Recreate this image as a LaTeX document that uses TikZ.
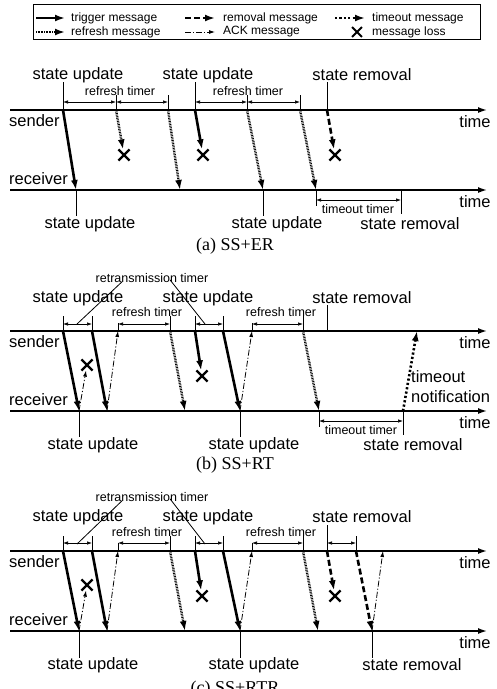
\documentclass[tikz,border=0pt]{standalone}
\usepackage{fontspec}
\setmainfont{Liberation Sans}
\newfontfamily\capfont{Liberation Serif}
\usetikzlibrary{arrows.meta,shapes.misc}

\begin{document}
\begin{tikzpicture}[x=1pt,y=-1pt,
    tline/.style={line width=1.5pt,-{Latex[length=9pt,width=6pt]}},
    trig/.style={line width=2.6pt,-{Latex[length=10pt,width=7pt]}},
    refr/.style={line width=2.4pt,dash pattern=on 0.8pt off 0.8pt,-{Latex[length=10pt,width=7pt]}},
    remv/.style={line width=2.6pt,dash pattern=on 6pt off 3pt,-{Latex[length=10pt,width=7pt]}},
    tmo/.style={line width=2.6pt,dash pattern=on 2.2pt off 2.2pt,-{Latex[length=10pt,width=7pt]}},
    ack/.style={line width=0.8pt,dash pattern=on 6pt off 2pt on 1.2pt off 2pt,-{Latex[length=6pt,width=4pt]}},
    timer/.style={line width=0.7pt,{Latex[length=5pt,width=3.5pt]}-{Latex[length=5pt,width=3.5pt]}},
    tickln/.style={line width=0.8pt},
    loss/.style={cross out,draw,line width=2.2pt,minimum size=9pt,inner sep=0pt},
    lbl/.style={inner sep=0pt,font=\fontsize{16.5}{20}\selectfont},
    sml/.style={inner sep=0pt,font=\fontsize{12.5}{14}\selectfont},
    leg/.style={inner sep=0pt,anchor=west,font=\fontsize{12}{14}\selectfont},
    capt/.style={inner sep=0pt,font=\capfont\fontsize{18}{21}\selectfont}]
    \useasboundingbox (0,0) rectangle (497,689);

    % legend
    \draw[line width=1pt] (33,4) rectangle (480,39);
    \node[leg] (ltrig) at (71,18) {trigger message};
    \node[leg] (lrefr) at (71,32) {refresh message};
    \node[leg] (lremv) at (223,18) {removal message};
    \node[leg] (lack) at (223,32) {ACK message};
    \node[leg] (ltmo) at (372,18) {timeout message};
    \node[leg] (lloss) at (372,32) {message loss};
    \draw[trig,line width=2pt] ([xshift=-35pt]ltrig.west) -- ([xshift=-6pt]ltrig.west);
    \draw[refr,line width=2pt] ([xshift=-35pt]lrefr.west) -- ([xshift=-6pt]lrefr.west);
    \draw[remv,line width=2pt] ([xshift=-38pt]lremv.west) -- ([xshift=-8pt]lremv.west);
    \draw[ack] ([xshift=-38pt]lack.west) -- ([xshift=-8pt]lack.west);
    \draw[tmo,line width=2pt] ([xshift=-37pt]ltmo.west) -- ([xshift=-7pt]ltmo.west);
    \node[loss,minimum size=8pt,line width=1.8pt] (lx) at ([xshift=-15pt]lloss.west) {};

    % (a) SS+ER
    \begin{scope}[shift={(0,110)},name prefix=a-]
        \coordinate (s0) at (10,0);
        \coordinate (s1) at (487,0);
        \coordinate (r0) at (10,80);
        \coordinate (r1) at (487,80);
        \draw[tline] (s0) -- (s1);
        \draw[tline] (r0) -- (r1);
        \node[lbl,anchor=west] (snd) at (9,11) {sender};
        \node[lbl,anchor=west] (rcv) at (9,69) {receiver};
        \node[lbl] (ts) at (475,12) {time};
        \node[lbl] (tr) at (475,92) {time};
        \coordinate (e1) at (63,0);
        \coordinate (e2) at (116,0);
        \coordinate (e3) at (168,0);
        \coordinate (e4) at (195,0);
        \coordinate (e5) at (247,0);
        \coordinate (e6) at (300,0);
        \coordinate (e7) at (327,0);
        \coordinate (f1) at (76,80);
        \coordinate (f2) at (180,80);
        \coordinate (f3) at (263,80);
        \coordinate (f4) at (316,80);
        \coordinate (f5) at (401,80);
        \node[loss] (x1) at (124,45) {};
        \node[loss] (x2) at (203,45) {};
        \node[loss] (x3) at (335,45) {};
        \draw[tickln] (e1) -- ++(0,-28);
        \draw[tickln] (e4) -- ++(0,-28);
        \draw[tickln] (e7) -- ++(0,-28);
        \draw[tickln] (e2) -- ++(0,-15);
        \draw[tickln] (e3) -- ++(0,-15);
        \draw[tickln] (e5) -- ++(0,-15);
        \draw[tickln] (e6) -- ++(0,-15);
        \draw[tickln] (f1) -- ++(0,26);
        \draw[tickln] (f3) -- ++(0,26);
        \draw[tickln] (f5) -- ++(0,24);
        \draw[tickln] (f4) -- ++(0,16);
        \draw[timer] ([yshift=8pt]e1) -- ([yshift=8pt]e2);
        \draw[timer] ([yshift=8pt]e2) -- ([yshift=8pt]e3);
        \draw[timer] ([yshift=8pt]e4) -- ([yshift=8pt]e5);
        \draw[timer] ([yshift=8pt]e5) -- ([yshift=8pt]e6);
        \draw[timer] ([yshift=-10pt]f4) -- ([yshift=-10pt]f5);
        \draw[trig] (e1) -- (f1);
        \draw[refr] (e2) -- (x1);
        \draw[refr] (e3) -- (f2);
        \draw[trig] (e4) -- (x2);
        \draw[refr] (e5) -- (f3);
        \draw[refr] (e6) -- (f4);
        \draw[remv] (e7) -- (x3);
        \node[lbl] (u1) at (78,-35) {state update};
        \node[lbl] (u2) at (208,-35) {state update};
        \node[lbl] (rm1) at (362,-35) {state removal};
        \node[sml] (rt1) at (120,-19) {refresh timer};
        \node[sml] (rt2) at (248,-19) {refresh timer};
        \node[sml] (tt1) at (358,99) {timeout timer};
        \node[lbl] (u3) at (90,114) {state update};
        \node[lbl] (u4) at (277,114) {state update};
        \node[lbl] (rm2) at (410,114) {state removal};
    \end{scope}
    \node[capt] (capa) at (235,246) {(a) SS+ER};

    % (b) SS+RT
    \begin{scope}[shift={(0,331)},name prefix=b-]
        \coordinate (s0) at (10,0);
        \coordinate (s1) at (487,0);
        \coordinate (r0) at (10,80);
        \coordinate (r1) at (487,80);
        \draw[tline] (s0) -- (s1);
        \draw[tline] (r0) -- (r1);
        \node[lbl,anchor=west] (snd) at (9,11) {sender};
        \node[lbl,anchor=west] (rcv) at (9,69) {receiver};
        \node[lbl] (ts) at (475,12) {time};
        \node[lbl] (tr) at (475,92) {time};
        \coordinate (e1) at (63,0);
        \coordinate (e2) at (92,0);
        \coordinate (e3) at (118,0);
        \coordinate (e4) at (170,0);
        \coordinate (e5) at (195,0);
        \coordinate (e6) at (223,0);
        \coordinate (e7) at (252,0);
        \coordinate (e8) at (303,0);
        \coordinate (e9) at (327,0);
        \coordinate (e10) at (417,0);
        \coordinate (f1) at (79,80);
        \coordinate (f2) at (107,80);
        \coordinate (f3) at (185,80);
        \coordinate (f4) at (240,80);
        \coordinate (f5) at (319,80);
        \coordinate (f6) at (403,80);
        \coordinate (m1) at (77,-7);
        \coordinate (m2) at (205,-7);
        \node[loss] (x1) at (87,34) {};
        \node[loss] (x2) at (202,45) {};
        \draw[tickln] (e1) -- ++(0,-15);
        \draw[tickln] (e2) -- ++(0,-15);
        \draw[tickln] (e3) -- ++(0,-8);
        \draw[tickln] (e4) -- ++(0,-15);
        \draw[tickln] (e5) -- ++(0,-15);
        \draw[tickln] (e6) -- ++(0,-15);
        \draw[tickln] (e7) -- ++(0,-8);
        \draw[tickln] (e8) -- ++(0,-15);
        \draw[tickln] (e9) -- ++(0,-26);
        \draw[tickln] (f1) -- ++(0,26);
        \draw[tickln] (f4) -- ++(0,26);
        \draw[tickln] (f6) -- ++(0,24);
        \draw[tickln] (f5) -- ++(0,16);
        \draw[timer] ([yshift=7pt]e1) -- ([yshift=7pt]e2);
        \draw[timer] ([yshift=7pt]e3) -- ([yshift=7pt]e4);
        \draw[timer] ([yshift=7pt]e5) -- ([yshift=7pt]e6);
        \draw[timer] ([yshift=7pt]e7) -- ([yshift=7pt]e8);
        \draw[timer] ([yshift=-10pt]f5) -- ([yshift=-10pt]f6);
        \draw[trig] (e1) -- (f1);
        \draw[ack] (f1) -- (x1);
        \draw[trig] (e2) -- (f2);
        \draw[ack] (f2) -- (e3);
        \draw[refr] (e4) -- (f3);
        \draw[trig] (e5) -- (x2);
        \draw[trig] (e6) -- (f4);
        \draw[ack] (f4) -- (e7);
        \draw[refr] (e8) -- (f5);
        \draw[tmo] (f6) -- (e10);
        \node[sml] (rtx) at (152,-53) {retransmission timer};
        \draw[tickln] ([xshift=-30pt,yshift=1pt]rtx.south) -- (m1);
        \draw[tickln] ([xshift=18pt,yshift=3pt]rtx.south) -- (m2);
        \node[lbl] (u1) at (78,-33) {state update};
        \node[lbl] (u2) at (208,-33) {state update};
        \node[lbl] (rm1) at (362,-33) {state removal};
        \node[sml] (rt1) at (147,-19) {refresh timer};
        \node[sml] (rt2) at (281,-19) {refresh timer};
        \node[lbl,anchor=west,align=left] (ton) at (411,56) {timeout\\notification};
        \node[sml] (tt1) at (361,99) {timeout timer};
        \node[lbl] (u3) at (93,114) {state update};
        \node[lbl] (u4) at (254,114) {state update};
        \node[lbl] (rm2) at (413,114) {state removal};
    \end{scope}
    \node[capt] (capb) at (235,465) {(b) SS+RT};

    % (c) SS+RTR
    \begin{scope}[shift={(0,551)},name prefix=c-]
        \coordinate (s0) at (10,0);
        \coordinate (s1) at (487,0);
        \coordinate (r0) at (10,80);
        \coordinate (r1) at (487,80);
        \draw[tline] (s0) -- (s1);
        \draw[tline] (r0) -- (r1);
        \node[lbl,anchor=west] (snd) at (9,11) {sender};
        \node[lbl,anchor=west] (rcv) at (9,69) {receiver};
        \node[lbl] (ts) at (475,12) {time};
        \node[lbl] (tr) at (475,92) {time};
        \coordinate (e1) at (63,0);
        \coordinate (e2) at (92,0);
        \coordinate (e3) at (118,0);
        \coordinate (e4) at (170,0);
        \coordinate (e5) at (195,0);
        \coordinate (e6) at (223,0);
        \coordinate (e7) at (252,0);
        \coordinate (e8) at (303,0);
        \coordinate (e9) at (327,0);
        \coordinate (e10) at (356,0);
        \coordinate (e11) at (383,0);
        \coordinate (f1) at (79,80);
        \coordinate (f2) at (107,80);
        \coordinate (f3) at (185,80);
        \coordinate (f4) at (240,80);
        \coordinate (f5) at (318,80);
        \coordinate (f6) at (372,80);
        \coordinate (m1) at (77,-7);
        \coordinate (m2) at (205,-7);
        \node[loss] (x1) at (87,34) {};
        \node[loss] (x2) at (202,45) {};
        \node[loss] (x3) at (335,45) {};
        \draw[tickln] (e1) -- ++(0,-15);
        \draw[tickln] (e2) -- ++(0,-15);
        \draw[tickln] (e3) -- ++(0,-8);
        \draw[tickln] (e4) -- ++(0,-15);
        \draw[tickln] (e5) -- ++(0,-15);
        \draw[tickln] (e6) -- ++(0,-15);
        \draw[tickln] (e7) -- ++(0,-8);
        \draw[tickln] (e8) -- ++(0,-15);
        \draw[tickln] (e9) -- ++(0,-26);
        \draw[tickln] (e10) -- ++(0,-15);
        \draw[tickln] (f1) -- ++(0,27);
        \draw[tickln] (f4) -- ++(0,27);
        \draw[tickln] (f6) -- ++(0,27);
        \draw[timer] ([yshift=8pt]e1) -- ([yshift=8pt]e2);
        \draw[timer] ([yshift=8pt]e3) -- ([yshift=8pt]e4);
        \draw[timer] ([yshift=8pt]e5) -- ([yshift=8pt]e6);
        \draw[timer] ([yshift=8pt]e7) -- ([yshift=8pt]e8);
        \draw[timer] ([yshift=8pt]e9) -- ([yshift=8pt]e10);
        \draw[trig] (e1) -- (f1);
        \draw[ack] (f1) -- (x1);
        \draw[trig] (e2) -- (f2);
        \draw[ack] (f2) -- (e3);
        \draw[refr] (e4) -- (f3);
        \draw[trig] (e5) -- (x2);
        \draw[trig] (e6) -- (f4);
        \draw[ack] (f4) -- (e7);
        \draw[refr] (e8) -- (f5);
        \draw[remv] (e9) -- (x3);
        \draw[remv] (e10) -- (f6);
        \draw[ack] (f6) -- (e11);
        \node[sml] (rtx) at (152,-54) {retransmission timer};
        \draw[tickln] ([xshift=-30pt,yshift=1pt]rtx.south) -- (m1);
        \draw[tickln] ([xshift=18pt,yshift=3pt]rtx.south) -- (m2);
        \node[lbl] (u1) at (78,-34) {state update};
        \node[lbl] (u2) at (208,-34) {state update};
        \node[lbl] (rm1) at (362,-34) {state removal};
        \node[sml] (rt1) at (147,-19) {refresh timer};
        \node[sml] (rt2) at (281,-19) {refresh timer};
        \node[lbl] (u3) at (93,114) {state update};
        \node[lbl] (u4) at (254,114) {state update};
        \node[lbl] (rm2) at (412,114) {state removal};
    \end{scope}
    \node[capt] (capc) at (235,689) {(c) SS+RTR};
\end{tikzpicture}
\end{document}
